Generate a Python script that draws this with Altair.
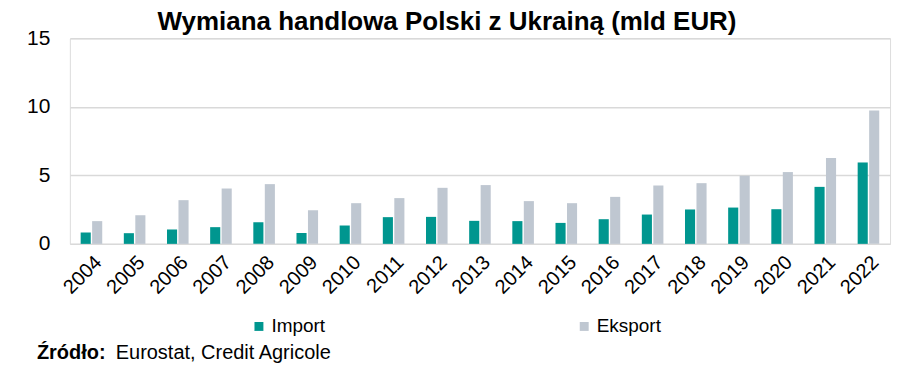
import altair as alt
import pandas as pd

years = [str(y) for y in range(2004, 2023)]
imports = [0.83, 0.78, 1.05, 1.22, 1.58, 0.80, 1.34, 1.95, 1.97, 1.68, 1.66, 1.53, 1.80, 2.14, 2.51, 2.65, 2.53, 4.16, 5.94]
exports = [1.66, 2.09, 3.19, 4.04, 4.36, 2.46, 2.97, 3.34, 4.09, 4.29, 3.12, 2.97, 3.43, 4.26, 4.43, 4.97, 5.24, 6.26, 9.74]
series = ["Import", "Eksport"]
colors = ["#00968f", "#bfc7d1"]

rows = []
for i, y in enumerate(years):
    rows.append({"rok": y, "seria": "Import", "wartosc": imports[i]})
    rows.append({"rok": y, "seria": "Eksport", "wartosc": exports[i]})
df = pd.DataFrame(rows)

FONT = "Liberation Sans"

bars = alt.Chart(df).mark_bar().encode(
    x=alt.X("rok:N", sort=years, title=None,
            scale=alt.Scale(paddingInner=0.5, paddingOuter=0.25),
            axis=alt.Axis(labelAngle=-45, labelFontSize=20, labelColor="#000000",
                          labelFont=FONT, ticks=False, domain=False, labelPadding=8)),
    xOffset=alt.XOffset("seria:N", sort=series, scale=alt.Scale(paddingInner=0.12)),
    y=alt.Y("wartosc:Q", title=None,
            scale=alt.Scale(domain=[0, 15]),
            axis=alt.Axis(values=[0, 5, 10, 15], labelFontSize=21, labelColor="#000000",
                          labelFont=FONT, ticks=False, domain=False, labelPadding=20,
                          gridColor="#d9d9d9", gridWidth=1.5)),
    color=alt.Color("seria:N", sort=series,
                    scale=alt.Scale(domain=series, range=colors),
                    legend=alt.Legend(title=None, orient="none", legendX=180, legendY=74 + 205,
                                      direction="horizontal", symbolType="square",
                                      symbolSize=80, symbolStrokeWidth=0,
                                      labelFontSize=19, labelFont=FONT, labelColor="#000000",
                                      columnPadding=250, labelOffset=3)),
)

src_bold = alt.Chart(pd.DataFrame({"t": ["Źródło:"]})).mark_text(
    align="left", baseline="middle", font=FONT, fontSize=20, fontWeight="bold", color="#000000"
).encode(text="t:N", x=alt.value(-33), y=alt.value(315))

src_norm = alt.Chart(pd.DataFrame({"t": ["Eurostat, Credit Agricole"]})).mark_text(
    align="left", baseline="middle", font=FONT, fontSize=20, color="#000000"
).encode(text="t:N", x=alt.value(46), y=alt.value(315))

chart = alt.layer(bars, src_bold, src_norm).properties(
    width=822, height=206,
    autosize=alt.AutoSizeParams(type="none"),
    padding={"left": 62, "top": 30, "right": 16, "bottom": 120},
    title=alt.TitleParams("Wymiana handlowa Polski z Ukrainą (mld EUR)", font=FONT,
                          fontSize=26, fontWeight="bold", color="#000000",
                          anchor="middle", dx=-33, offset=-8),
).configure_view(stroke=None).configure(background="#ffffff")

chart.save("out.html", embed_options={"renderer": "svg", "actions": False})
